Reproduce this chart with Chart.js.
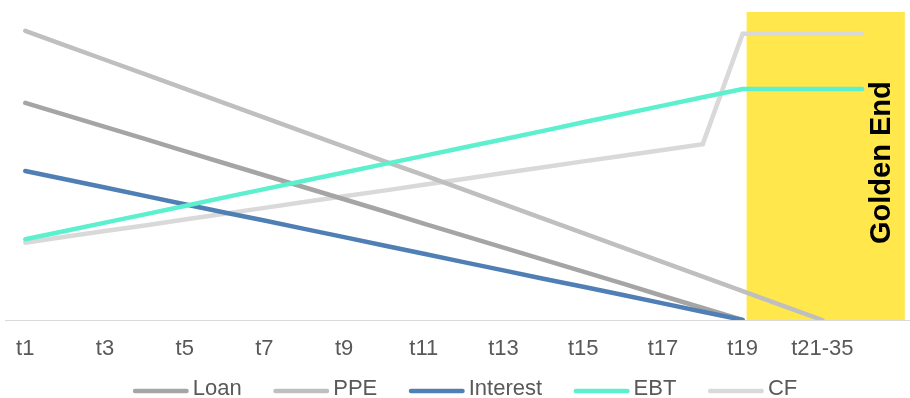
<!DOCTYPE html>
<html lang="en">
<head>
<meta charset="utf-8">
<title>Golden End</title>
<script src="https://cdn.jsdelivr.net/npm/chart.js@4.4.1/dist/chart.umd.min.js"></script>
<style>
  html, body { margin: 0; padding: 0; background: #ffffff; overflow: hidden; }
  #wrap { position: relative; width: 910px; height: 398px; }
</style>
</head>
<body>
<div id="wrap"><canvas id="chart"></canvas></div>
<script>
// Periods on the category axis (every second one is labelled)
const periods = ['t1', 't2', 't3', 't4', 't5', 't6', 't7', 't8', 't9', 't10',
                 't11', 't12', 't13', 't14', 't15', 't16', 't17', 't18', 't19', 't20',
                 't21-35', 't36+'];

// Series values, one per period (null = series has ended)
const loan     = [70.5, 66.6, 62.7, 58.8, 54.8, 50.9, 47.0, 43.1, 39.2, 35.3,
                  31.3, 27.4, 23.5, 19.6, 15.7, 11.8, 7.8, 3.9, 0, null, null, null];
const ppe      = [93.9, 89.2, 84.5, 79.8, 75.1, 70.4, 65.7, 61.0, 56.3, 51.6,
                  47.0, 42.3, 37.6, 32.9, 28.2, 23.5, 18.8, 14.1, 9.4, 4.7, 0, null];
const interest = [48.4, 45.7, 43.0, 40.3, 37.6, 34.9, 32.3, 29.6, 26.9, 24.2,
                  21.5, 18.8, 16.1, 13.4, 10.8, 8.1, 5.4, 2.7, 0, null, null, null];
const ebt      = [26.2, 28.9, 31.6, 34.3, 37.0, 39.8, 42.5, 45.2, 47.9, 50.6,
                  53.3, 56.0, 58.7, 61.4, 64.2, 66.9, 69.6, 72.3, 75.0, 75.0, 75.0, 75.0];
const cf       = [25.1, 27.0, 28.9, 30.7, 32.6, 34.5, 36.4, 38.3, 40.2, 42.0,
                  43.9, 45.8, 47.7, 49.6, 51.5, 53.3, 55.2, 57.1, 92.9, 92.9, 92.9, 92.9];

// Shaded "Golden End" stretch, in period-index units
const goldenFrom = 18.1;
const goldenTo = 22.07;

Chart.defaults.font.family = '"Liberation Sans", Arial, sans-serif';

// Yellow band with its rotated caption, painted underneath axes and lines
const goldenBand = {
  id: 'goldenBand',
  beforeDraw(chart, args, opts) {
    const {ctx, scales: {x, y}} = chart;
    const left = x.getPixelForValue(opts.from);
    const right = x.getPixelForValue(opts.to);
    const top = y.getPixelForValue(y.max);
    const bottom = y.getPixelForValue(0);
    ctx.save();
    ctx.fillStyle = opts.color;
    ctx.fillRect(left, top, right - left, bottom - top);
    ctx.translate(right - opts.textInset, y.getPixelForValue(opts.textAt));
    ctx.rotate(-Math.PI / 2);
    ctx.font = opts.font;
    ctx.fillStyle = opts.textColor;
    ctx.textAlign = 'center';
    ctx.textBaseline = 'alphabetic';
    ctx.fillText(opts.text, 0, 0);
    ctx.restore();
  }
};

// Single-row legend: a short stroke in the series colour followed by its name
const legendRow = {
  id: 'legendRow',
  afterDraw(chart, args, opts) {
    const {ctx} = chart;
    const sets = chart.data.datasets;
    ctx.save();
    ctx.font = opts.font;
    const widths = sets.map(ds => ctx.measureText(ds.label).width);
    const rowWidth = widths.reduce((sum, w) => sum + opts.lineLength + opts.textGap + w, 0)
                   + opts.itemGap * (sets.length - 1);
    let x = chart.width / 2 + opts.shift - rowWidth / 2;
    ctx.textBaseline = 'middle';
    ctx.textAlign = 'left';
    sets.forEach((ds, i) => {
      const half = ds.borderWidth / 2;
      ctx.strokeStyle = ds.borderColor;
      ctx.lineWidth = ds.borderWidth;
      ctx.lineCap = 'round';
      ctx.beginPath();
      ctx.moveTo(x + half, opts.lineY);
      ctx.lineTo(x + opts.lineLength - half, opts.lineY);
      ctx.stroke();
      x += opts.lineLength + opts.textGap;
      ctx.fillStyle = opts.color;
      ctx.fillText(ds.label, x, opts.textY);
      x += widths[i] + opts.itemGap;
    });
    ctx.restore();
  }
};

const lineStyle = {
  borderWidth: 4.5,
  borderCapStyle: 'round',
  pointRadius: 0,
  pointHoverRadius: 0,
  pointHitRadius: 0,
  tension: 0,
  fill: false
};

new Chart(document.getElementById('chart'), {
  type: 'line',
  data: {
    labels: periods.map((_, i) => i),
    datasets: [
      { label: 'Loan',     data: loan,     borderColor: '#a5a5a5', order: 4, ...lineStyle },
      { label: 'PPE',      data: ppe,      borderColor: '#bfbfbf', order: 3, ...lineStyle },
      { label: 'Interest', data: interest, borderColor: '#4f7fb4', order: 2, ...lineStyle },
      { label: 'EBT',      data: ebt,      borderColor: '#5cf0cf', order: 1, ...lineStyle },
      { label: 'CF',       data: cf,       borderColor: '#d9d9d9', order: 5, ...lineStyle }
    ]
  },
  options: {
    responsive: true,
    maintainAspectRatio: false,
    animation: false,
    events: [],
    layout: { padding: { left: 5, right: 0, top: 12, bottom: 34 } },
    scales: {
      x: {
        type: 'linear',
        min: -0.5,
        max: 22.2,
        grid: { display: false, drawTicks: false },
        border: { display: true, color: '#d9d9d9', width: 1 },
        ticks: {
          stepSize: 2,
          autoSkip: false,
          includeBounds: false,
          maxRotation: 0,
          minRotation: 0,
          padding: 16,
          color: '#595959',
          font: { size: 22 },
          callback: v => periods[v] ?? ''
        },
        // keep only ticks that name a period
        afterBuildTicks: scale => {
          scale.ticks = scale.ticks.filter(t => periods[t.value] !== undefined);
        },
        afterFit: scale => { scale.height = 44; }
      },
      y: { display: false, min: 0, max: 100 }
    },
    plugins: {
      legend: { display: false },
      tooltip: { enabled: false },
      goldenBand: {
        from: goldenFrom,
        to: goldenTo,
        color: '#ffe74c',
        text: 'Golden End',
        textAt: 51.1,
        textInset: 14.5,
        font: 'bold 29px "Liberation Sans", Arial, sans-serif',
        textColor: '#000000'
      },
      legendRow: {
        font: '22px "Liberation Sans", Arial, sans-serif',
        color: '#595959',
        lineLength: 56,
        textGap: 4,
        itemGap: 31.5,
        shift: 10,
        lineY: 391,
        textY: 389.4
      }
    }
  },
  plugins: [goldenBand, legendRow]
});
</script>
</body>
</html>
